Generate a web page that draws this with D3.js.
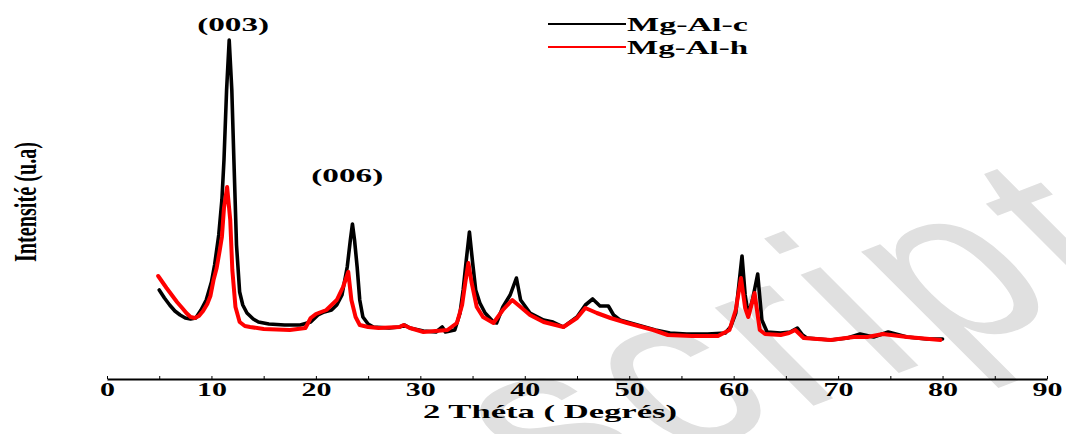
<!DOCTYPE html>
<html lang="fr">

<head>
    <meta charset="UTF-8">
    <title>DRX Mg-Al</title>
    <script src="https://d3js.org/d3.v7.min.js"></script>
    <style>
        body { margin: 0; background: #fff; }
        text { font-family: "Liberation Serif", "Times New Roman", serif; font-weight: bold; }
    </style>
</head>

<body>
    <svg class="chart" width="1066" height="434"></svg>
    <script>
    // 2 theta (degrees) and intensity (a.u.)
    var theta_c = [5.0, 5.5, 6.0, 6.5, 7.0, 7.5, 8.0, 8.5, 9.0, 9.5, 10.0, 10.3, 10.7, 11.0, 11.2, 11.45, 11.7, 11.95, 12.15, 12.4, 12.7, 13.0, 13.4, 14.0, 14.5, 15.5, 17.0, 18.5, 19.5, 20.2, 20.8, 21.5, 22.0, 22.5, 23.0, 23.3, 23.5, 23.7, 23.95, 24.2, 24.5, 25.0, 25.5, 27.0, 28.0, 28.5, 29.0, 30.3, 31.5, 32.1, 32.4, 33.3, 33.8, 34.1, 34.4, 34.7, 35.0, 35.3, 35.7, 36.2, 37.0, 37.3, 37.9, 38.6, 39.2, 39.6, 40.5, 41.8, 42.7, 43.7, 45.0, 45.8, 46.5, 47.2, 48.0, 48.5, 49.1, 50.8, 52.5, 53.9, 55.5, 57.5, 59.2, 59.7, 60.2, 60.5, 60.8, 61.1, 61.4, 61.8, 62.3, 62.7, 63.2, 64.5, 65.4, 66.1, 66.6, 67.0, 69.3, 70.9, 72.1, 73.4, 74.8, 76.6, 78.5, 80.0];
    var int_c = [890, 810, 740, 680, 640, 610, 600, 610, 690, 790, 970, 1140, 1440, 1790, 2190, 2890, 3390, 2890, 2190, 1340, 870, 740, 660, 600, 570, 550, 540, 540, 570, 640, 670, 690, 740, 840, 1120, 1390, 1550, 1390, 1120, 790, 620, 550, 520, 510, 520, 540, 510, 480, 470, 520, 470, 490, 660, 890, 1190, 1470, 1170, 890, 760, 660, 570, 560, 720, 840, 1010, 790, 660, 590, 570, 520, 620, 740, 800, 730, 730, 640, 590, 540, 490, 460, 450, 450, 460, 520, 660, 940, 1230, 840, 640, 790, 1050, 590, 470, 460, 470, 510, 440, 410, 390, 410, 450, 420, 470, 420, 400, 400];

    var theta_h = [4.9, 5.3, 5.7, 6.2, 6.7, 7.2, 7.6, 8.0, 8.4, 8.8, 9.2, 9.6, 9.9, 10.2, 10.5, 10.8, 11.0, 11.2, 11.5, 11.8, 12.0, 12.3, 12.7, 13.2, 13.7, 15.0, 17.5, 19.0, 19.5, 20.0, 21.0, 22.0, 22.6, 23.1, 23.4, 23.8, 24.2, 25.0, 26.0, 28.0, 28.4, 29.0, 30.3, 32.6, 33.5, 34.0, 34.3, 34.6, 34.9, 35.4, 36.0, 37.0, 37.9, 38.8, 39.6, 40.5, 41.8, 43.7, 45.0, 45.8, 46.9, 48.2, 49.8, 52.3, 53.7, 56.0, 58.5, 59.6, 60.2, 60.7, 61.1, 61.4, 61.7, 62.0, 62.5, 63.0, 64.5, 65.3, 65.9, 66.7, 69.3, 71.5, 72.8, 74.3, 76.6, 79.8];
    var int_h = [1030, 970, 910, 840, 770, 710, 660, 620, 610, 630, 680, 750, 830, 990, 1110, 1290, 1420, 1710, 1920, 1590, 1090, 720, 570, 530, 520, 500, 490, 510, 610, 650, 690, 790, 920, 1070, 790, 620, 540, 520, 510, 520, 540, 510, 470, 490, 560, 740, 960, 1160, 970, 720, 620, 560, 690, 790, 720, 640, 570, 520, 610, 710, 660, 610, 560, 490, 440, 430, 430, 490, 690, 1010, 710, 620, 740, 860, 490, 450, 440, 460, 490, 410, 390, 420, 420, 450, 420, 390];

    var series_names = ['Mg-Al-c', 'Mg-Al-h'];
    var series_colors = ['#000000', '#ff0000'];
    var x_ticks = [0, 5, 10, 15, 20, 25, 30, 35, 40, 45, 50, 55, 60, 65, 70, 75, 80, 85, 90];
    var peak_labels = ['(003)', '(006)'];
    var peak_pos = [11.7, 23.0];
    var peak_int = [3390, 1550];

    var svg = d3.select('.chart');

    // faint watermark of the source page (only its end shows)
    svg.append('text')
        .attr('transform', 'translate(1154,275) rotate(-21) skewX(24)')
        .attr('text-anchor', 'end')
        .style('font-family', '"Liberation Sans", Arial, sans-serif')
        .style('font-size', '240px')
        .style('font-weight', 'normal')
        .style('letter-spacing', '12px')
        .attr('fill', '#e0e0e0')
        .text('script');

    var x = d3.scaleLinear().domain([0, 90]).range([107, 1047]);
    var y = d3.scaleLinear().domain([0, 3390]).range([379, 40]);

    var line = d3.line()
        .x(function(d) { return x(d[0]); })
        .y(function(d) { return y(d[1]); });

    var data_c = d3.zip(theta_c, int_c),
        data_h = d3.zip(theta_h, int_h);

    [data_c, data_h].forEach(function(d, i) {
        svg.append('path')
            .datum(d)
            .attr('fill', 'none')
            .attr('stroke', series_colors[i])
            .attr('stroke-width', i === 0 ? 3.6 : 4)
            .attr('stroke-linejoin', 'round')
            .attr('stroke-linecap', 'round')
            .attr('d', line);
    });

    // x axis: small ticks every 5, labels every 10
    var xAxis = d3.axisBottom(x)
        .tickValues(x_ticks)
        .tickSize(-3)
        .tickSizeOuter(0)
        .tickFormat(function(d) { return d % 10 === 0 ? d : ''; });

    var gx = svg.append('g')
        .attr('transform', 'translate(0,379)')
        .call(xAxis);
    gx.select('.domain').attr('stroke-width', 2);
    gx.selectAll('.tick line').attr('stroke-width', 1);
    gx.selectAll('.tick text')
        .attr('y', 17)
        .attr('dy', 0)
        .attr('fill', '#000')
        .style('font-size', '19px')
        .style('font-family', '"Liberation Serif", serif')
        .style('font-weight', 'bold')
        .attr('textLength', function(d) { return d === 0 ? 15 : 30; })
        .attr('lengthAdjust', 'spacingAndGlyphs');

    svg.append('text')
        .attr('x', 550)
        .attr('y', 418)
        .attr('text-anchor', 'middle')
        .attr('textLength', 254)
        .attr('lengthAdjust', 'spacingAndGlyphs')
        .style('font-size', '19px')
        .text('2 Théta ( Degrés)');

    svg.append('text')
        .attr('transform', 'translate(36,202) rotate(-90)')
        .attr('text-anchor', 'middle')
        .attr('textLength', 120)
        .attr('lengthAdjust', 'spacingAndGlyphs')
        .style('font-size', '31px')
        .text('Intensité (u.a)');

    // peak labels
    peak_labels.forEach(function(t, i) {
        svg.append('text')
            .attr('x', i === 0 ? x(peak_pos[i]) + 4 : x(peak_pos[i]) + 0)
            .attr('y', i === 0 ? y(peak_int[i]) - 9 : y(peak_int[i]) - 42)
            .attr('text-anchor', 'middle')
            .attr('textLength', 72)
            .attr('lengthAdjust', 'spacingAndGlyphs')
            .style('font-size', '19px')
            .text(t);
    });

    // legend
    var legend = svg.append('g').attr('transform', 'translate(548,24)');
    series_names.forEach(function(n, i) {
        legend.append('line')
            .attr('x1', 0).attr('x2', 78)
            .attr('y1', i * 23).attr('y2', i * 23)
            .attr('stroke', series_colors[i])
            .attr('stroke-width', 2);
        legend.append('text')
            .attr('x', 79)
            .attr('y', i * 23 + 7)
            .attr('textLength', 121)
            .attr('lengthAdjust', 'spacingAndGlyphs')
            .style('font-size', '19px')
            .text(n);
    });
    </script>
</body>

</html>
